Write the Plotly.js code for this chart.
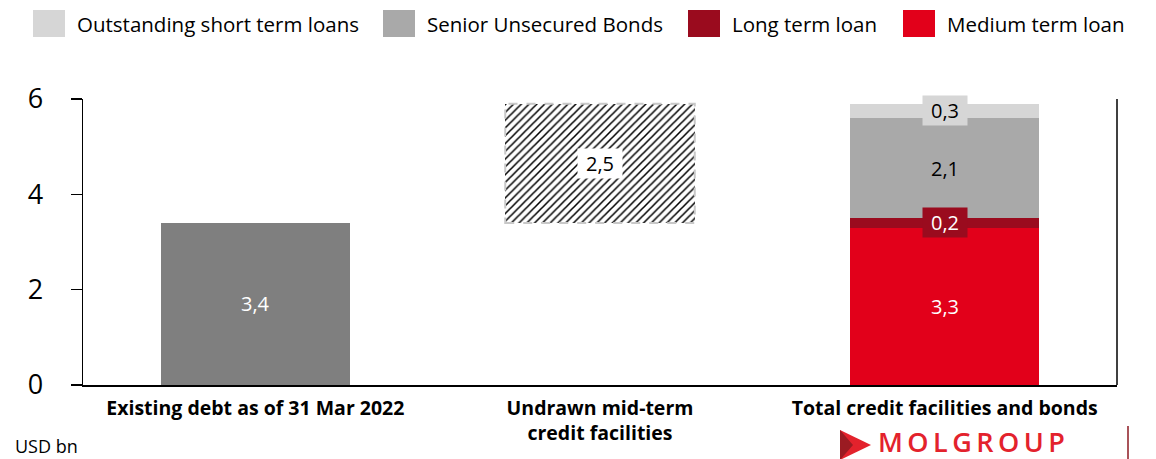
<!DOCTYPE html>
<html>
<head>
<meta charset="utf-8">
<script src="https://cdn.plot.ly/plotly-3.0.1.min.js"></script>
<style>
  html, body { margin: 0; padding: 0; background: #fff; }
  #chart { width: 1156px; height: 459px; }
</style>
</head>
<body>
<div id="chart"></div>
<script>
// Categories and values (USD bn)
const categories = [
  "Existing debt as of 31 Mar 2022",
  "Undrawn mid-term<br>credit facilities",
  "Total credit facilities and bonds"
];
const existingDebt   = [3.4, null, null];
const undrawnCredit  = [null, 2.5, null];
const mediumTermLoan = [null, null, 3.3];
const longTermLoan   = [null, null, 0.2];
const seniorBonds    = [null, null, 2.1];
const shortTermLoans = [null, null, 0.3];
const legendNames = ["Outstanding short term loans", "Senior Unsecured Bonds", "Long term loan", "Medium term loan"];
const unitLabel = "USD bn";

// Colours
const C = {
  existing: "#7f7f7f",
  medium: "#e2001a",
  long: "#9a0b1e",
  senior: "#a9a9a9",
  short: "#d6d6d6",
  logo: "#e3222c"
};

const FONT = "'Open Sans', sans-serif";
const BAR_W = 0.55;

// Plot area in pixels
const L = 83, R = 39, T = 99, B = 74, W = 1156, H = 459;
const PW = W - L - R, PH = H - T - B;
const px = x => (x - L) / PW;
const py = y => (H - B - y) / PH;

const fmt = v => v.toFixed(1).replace(".", ",");

// The undrawn facilities sit on top of the existing debt (invisible spacer)
const offsetCol = [null, existingDebt[0], null];

const common = { type: "bar", x: categories, width: BAR_W, hoverinfo: "skip", showlegend: false };

const traces = [
  Object.assign({}, common, { name: "Existing debt", y: existingDebt, marker: { color: C.existing } }),
  Object.assign({}, common, { name: "offset", y: offsetCol, marker: { color: "rgba(0,0,0,0)" } }),
  Object.assign({}, common, {
    name: "Undrawn mid-term credit facilities", y: undrawnCredit,
    marker: { color: "#ffffff", pattern: { shape: "/", fgcolor: "#000000", bgcolor: "#ffffff", size: 5.5, solidity: 0.28 } }
  }),
  Object.assign({}, common, { name: legendNames[3], y: mediumTermLoan, marker: { color: C.medium } }),
  Object.assign({}, common, { name: legendNames[2], y: longTermLoan, marker: { color: C.long } }),
  Object.assign({}, common, { name: legendNames[1], y: seniorBonds, marker: { color: C.senior } }),
  Object.assign({}, common, { name: legendNames[0], y: shortTermLoans, marker: { color: C.short } })
];

// Value labels, centred on each segment
const annotations = [];
function segLabel(catIdx, base, v, color, bg) {
  const a = {
    xref: "x", yref: "y", x: categories[catIdx], y: base + v / 2,
    text: fmt(v), showarrow: false,
    font: { family: FONT, size: 20, color: color }
  };
  if (bg) { a.bgcolor = bg; a.width = 42; a.height = 27; }
  annotations.push(a);
}
segLabel(0, 0, existingDebt[0], "#ffffff");
segLabel(1, existingDebt[0], undrawnCredit[1], "#000000", "#ffffff");
let acc = 0;
segLabel(2, acc, mediumTermLoan[2], "#ffffff"); acc += mediumTermLoan[2];
segLabel(2, acc, longTermLoan[2], "#ffffff", C.long); acc += longTermLoan[2];
segLabel(2, acc, seniorBonds[2], "#000000"); acc += seniorBonds[2];
segLabel(2, acc, shortTermLoans[2], "#000000", C.short);

// Legend drawn as swatches + labels across the top
const shapes = [];
const legendItems = [
  { name: legendNames[0], color: C.short, x: 33 },
  { name: legendNames[1], color: C.senior, x: 383 },
  { name: legendNames[2], color: C.long, x: 688 },
  { name: legendNames[3], color: C.medium, x: 903 }
];
legendItems.forEach(it => {
  shapes.push({
    type: "rect", xref: "paper", yref: "paper",
    x0: px(it.x), x1: px(it.x + 32), y0: py(37), y1: py(10),
    fillcolor: it.color, line: { width: 0 }, layer: "above"
  });
  annotations.push({
    xref: "paper", yref: "paper", x: px(it.x + 42), y: py(24),
    xanchor: "left", yanchor: "middle", showarrow: false,
    text: it.name, font: { family: FONT, size: 20.5, color: "#000" }
  });
});

// Dashed outline of the undrawn facilities bar
shapes.push({
  type: "rect", xref: "x", yref: "y",
  x0: 1 - BAR_W / 2, x1: 1 + BAR_W / 2,
  y0: existingDebt[0], y1: existingDebt[0] + undrawnCredit[1],
  line: { color: "#c8c8c8", width: 2, dash: "dash" }, fillcolor: "rgba(0,0,0,0)", layer: "above"
});

// Right-hand frame line
shapes.push({
  type: "line", xref: "paper", yref: "paper", x0: 1, x1: 1, y0: 0, y1: 1,
  line: { color: "#000", width: 1.5 }
});

// Unit note
annotations.push({
  xref: "paper", yref: "paper", x: px(14), y: py(446),
  xanchor: "left", yanchor: "middle", showarrow: false,
  height: 22, borderpad: 0,
  text: unitLabel, font: { family: FONT, size: 18, color: "#000" }
});

// Company mark
shapes.push({
  type: "path", xref: "paper", yref: "paper",
  path: `M ${px(840)} ${py(430)} L ${px(871)} ${py(445)} L ${px(840)} ${py(460)} Z`,
  fillcolor: C.logo, line: { width: 0 }
});
shapes.push({
  type: "path", xref: "paper", yref: "paper",
  path: `M ${px(840)} ${py(430)} L ${px(853)} ${py(445)} L ${px(840)} ${py(460)} Z`,
  fillcolor: "#9b1b22", line: { width: 0 }
});
shapes.push({
  type: "line", xref: "paper", yref: "paper",
  x0: px(1128), x1: px(1128), y0: py(426), y1: py(462),
  line: { color: "#8c1a22", width: 1.5 }
});
annotations.push({
  xref: "paper", yref: "paper", x: px(877), y: py(441),
  xanchor: "left", yanchor: "middle", showarrow: false,
  height: 26, borderpad: 0,
  text: "M\u2009O\u2009L\u2009G\u2009R\u2009O\u2009U\u2009P",
  font: { family: "'Open Sans', sans-serif", size: 27, color: C.logo, weight: 600 }
});

const layout = {
  width: W, height: H,
  margin: { l: L, r: R, t: T, b: B, pad: 0 },
  paper_bgcolor: "#fff", plot_bgcolor: "#fff",
  barmode: "stack",
  bargap: 0.45,
  showlegend: false,
  font: { family: FONT, color: "#000" },
  xaxis: {
    type: "category",
    showline: true, linecolor: "#000", linewidth: 1.5,
    ticks: "", showgrid: false, zeroline: false,
    ticklabelstandoff: 5,
    tickfont: { family: FONT, size: 19.5, color: "#000", weight: "bold" },
    fixedrange: true
  },
  yaxis: {
    range: [0, 6], dtick: 2, tick0: 0,
    showline: true, linecolor: "#000", linewidth: 1.5,
    ticks: "outside", ticklen: 11, tickwidth: 1.5, tickcolor: "#000",
    ticklabelstandoff: 22,
    showgrid: false, zeroline: false,
    tickfont: { family: FONT, size: 27, color: "#000" },
    fixedrange: true
  },
  shapes: shapes,
  annotations: annotations
};

Plotly.newPlot("chart", traces, layout, { displayModeBar: false, staticPlot: true });
</script>
</body>
</html>
